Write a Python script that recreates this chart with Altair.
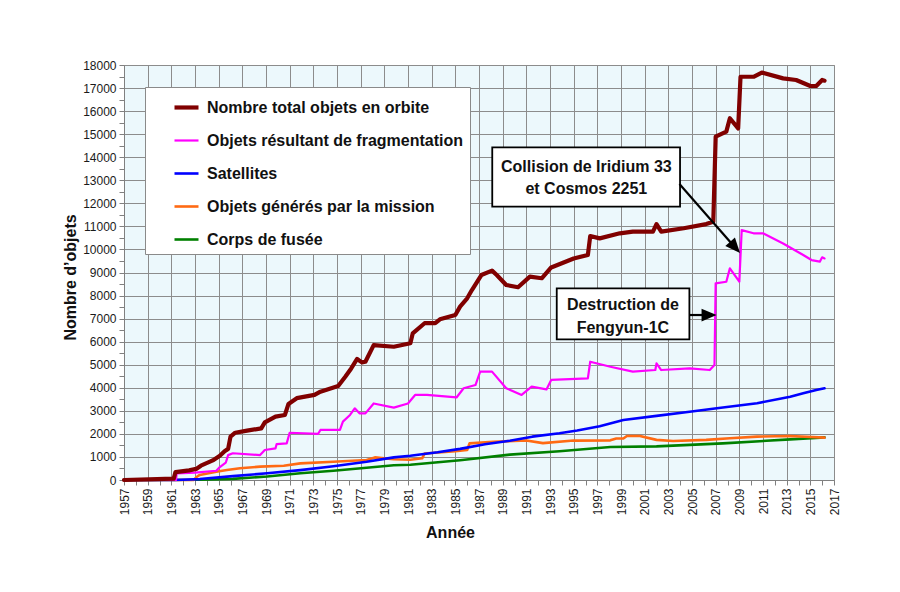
import altair as alt
import pandas as pd

# ---------------- data ----------------
SERIES = [
    "Nombre total objets en orbite",
    "Objets résultant de fragmentation",
    "Satellites",
    "Objets générés par la mission",
    "Corps de fusée",
]
COLORS = ["#800000", "#ff00ff", "#0000ff", "#ff6a13", "#008000"]
WIDTHS = [4.2, 2.2, 2.6, 2.6, 2.6]

total_years = [1957, 1961.2, 1961.35, 1962.5, 1963.1, 1963.5, 1964.5, 1965.1, 1965.5, 1965.8,
               1966.0, 1966.4, 1967.4, 1968.6, 1968.9, 1969.8, 1970.6, 1970.9, 1971.6, 1973.1,
               1973.6, 1975.1, 1975.7, 1976.2, 1976.7, 1977.1, 1977.4, 1978.1, 1979.8, 1981.2,
               1981.4, 1982.4, 1983.3, 1983.7, 1985.0, 1985.4, 1986.0, 1986.4, 1987.2, 1988.1,
               1988.5, 1989.3, 1990.3, 1991.3, 1992.3, 1993.1, 1995.0, 1996.2, 1996.4, 1997.2,
               1998.9, 2000.0, 2001.7, 2002.0, 2002.4, 2004.3, 2006.2, 2006.8, 2007.0, 2007.9,
               2008.2, 2008.9, 2009.1, 2010.2, 2010.9, 2012.7, 2013.8, 2015.0, 2015.5, 2016.0,
               2016.2]
total_values = [0, 60, 340, 420, 480, 620, 850, 1050, 1250, 1350,
                1880, 2050, 2140, 2240, 2500, 2750, 2820, 3300, 3550, 3690,
                3830, 4080, 4480, 4840, 5250, 5100, 5130, 5850, 5780, 5930,
                6360, 6800, 6800, 6970, 7160, 7520, 7880, 8240, 8890, 9080,
                8890, 8460, 8360, 8820, 8750, 9220, 9610, 9760, 10580, 10480,
                10700, 10770, 10770, 11100, 10770, 10920, 11100, 11200, 14890, 15110,
                15690, 15250, 17490, 17490, 17670, 17420, 17350, 17090, 17090, 17350,
                17320]

frag_years = [1957, 1961.4, 1961.45, 1963.0, 1964.8, 1965.1, 1965.6, 1965.8, 1966.2, 1968.5,
              1968.9, 1969.8, 1969.9, 1970.75, 1971.0, 1973.4, 1973.6, 1975.25, 1975.5, 1976.1,
              1976.5, 1976.9, 1977.4, 1978.1, 1979.8, 1981.0, 1981.6, 1982.6, 1985.1, 1985.7,
              1986.7, 1987.1, 1988.1, 1989.3, 1990.6, 1991.45, 1992.7, 1993.1, 1996.2, 1996.4,
              1998.1, 2000.0, 2001.9, 2002.0, 2002.4, 2004.8, 2006.5, 2006.9, 2007.0, 2007.9,
              2008.2, 2009.0, 2009.2, 2010.2, 2011.0, 2012.7, 2014.4, 2015.1, 2015.8, 2016.0,
              2016.2]
frag_values = [0, 0, 290, 320, 400, 560, 750, 1080, 1160, 1080,
               1300, 1370, 1560, 1590, 2050, 2000, 2170, 2170, 2530, 2820,
               3110, 2890, 2890, 3320, 3140, 3320, 3690, 3690, 3580, 3980,
               4120, 4700, 4700, 3980, 3690, 4050, 3930, 4340, 4410, 5130,
               4910, 4700, 4770, 5060, 4770, 4840, 4770, 4990, 8530, 8600,
               9180, 8600, 10840, 10700, 10700, 10260, 9760, 9540, 9470, 9660,
               9610]

sat_years = [1957, 1961.3, 1963.4, 1966.2, 1969.1, 1971.9, 1974.7, 1977.5, 1979.8, 1981.2,
             1983.5, 1985.4, 1987.5, 1989.6, 1991.5, 1993.8, 1995.3, 1997.2, 1999.2, 2002.0,
             2004.8, 2007.1, 2010.5, 2013.3, 2014.4, 2015.5, 2016.2]
sat_values = [0, 0, 40, 170, 290, 430, 600, 790, 980, 1050,
              1200, 1350, 1550, 1700, 1880, 2030, 2150, 2330, 2600, 2780,
              2960, 3110, 3330, 3610, 3760, 3900, 3980]

mission_years = [1957, 1962.9, 1963.1, 1963.4, 1964.8, 1965.7, 1966.8, 1968.5, 1970.5, 1971.9,
                 1974.7, 1977.5, 1978.2, 1979.8, 1981.2, 1982.2, 1982.4, 1985.0, 1986.0, 1986.2,
                 1988.2, 1991.0, 1992.4, 1995.0, 1998.1, 1998.6, 1999.2, 1999.5, 2000.6, 2002.0,
                 2003.4, 2006.2, 2008.2, 2010.5, 2013.3, 2016.2]
mission_values = [0, 0, 120, 220, 360, 430, 510, 580, 620, 720,
                  790, 870, 980, 900, 880, 940, 1150, 1250, 1300, 1590,
                  1660, 1710, 1600, 1710, 1720, 1800, 1800, 1910, 1910, 1740,
                  1690, 1740, 1810, 1880, 1910, 1840]

rocket_years = [1957, 1963.4, 1966.2, 1969.1, 1971.9, 1974.7, 1977.5, 1979.8, 1981.2, 1985.4,
                1989.6, 1993.8, 1998.1, 2002.0, 2007.6, 2013.3, 2016.2]
rocket_values = [0, 10, 50, 150, 290, 400, 530, 640, 660, 860,
                 1100, 1250, 1430, 1460, 1590, 1760, 1850]

# annotation boxes (data coordinates)
box_x1 = [1988.12, 1993.57]
box_x2 = [2003.99, 2004.78]
box_y1 = [11853, 6102]
box_y2 = [14429, 8314]

note_lines = ["Collision de Iridium 33", "et Cosmos 2251", "Destruction de", "Fengyun-1C"]
note_x = [1996.07, 1996.07, 1999.16, 1999.16]
note_y = [13597, 12621, 7590, 6592]

arrow_x1 = [2003.94, 2004.78]
arrow_y1 = [12838, 7156]
arrow_x2 = [2008.64, 2006.44]
arrow_y2 = [10088, 7156]
arrow_angle = [138.8, 90]

# ---------------- tables ----------------
rows = []
for name, ys, vs in [
    (SERIES[4], rocket_years, rocket_values),
    (SERIES[3], mission_years, mission_values),
    (SERIES[2], sat_years, sat_values),
    (SERIES[1], frag_years, frag_values),
    (SERIES[0], total_years, total_values),
]:
    for yr, v in zip(ys, vs):
        rows.append({"series": name, "year": yr, "value": v})
df = pd.DataFrame(rows)

boxes = pd.DataFrame({"x1": box_x1, "x2": box_x2, "y1": box_y1, "y2": box_y2})
notes = pd.DataFrame({"text": note_lines, "x": note_x, "y": note_y})
arrows = pd.DataFrame({"x1": arrow_x1, "y1": arrow_y1, "x2": arrow_x2, "y2": arrow_y2,
                       "angle": arrow_angle})

FONT = "Liberation Sans"
GRID = "#8c8c8c"

xscale = alt.Scale(domain=[1957, 2017], nice=False, zero=False)
yscale = alt.Scale(domain=[0, 18000], nice=False)

x_axis = alt.Axis(
    values=list(range(1957, 2018)),
    format="d",
    labelExpr="datum.value % 2 == 1 ? datum.label : ''",
    labelOverlap=False,
    labelAngle=270,
    labelAlign="right",
    labelBaseline="middle",
    labelFontSize=12,
    labelColor="#1a1a1a",
    labelPadding=3,
    tickSize=5,
    tickColor="#808080",
    domainColor="#808080",
    grid=True,
    gridColor=GRID,
    gridOpacity={"condition": {"test": "datum.value % 2 == 1", "value": 1}, "value": 0},
    title="Année",
    titleFontSize=16,
    titleFontWeight="bold",
    titleColor="#111111",
    titleX=326,
    titleY=52,
    titleBaseline="middle",
    titleAlign="center",
)
y_axis = alt.Axis(
    values=list(range(0, 18001, 500)),
    format="d",
    labelExpr="datum.value % 1000 == 0 ? datum.label : ''",
    labelOverlap=False,
    labelFontSize=12,
    labelColor="#1a1a1a",
    labelPadding=3,
    tickSize=5,
    tickColor="#808080",
    domainColor="#808080",
    grid=True,
    gridColor=GRID,
    gridOpacity={"condition": {"test": "datum.value % 1000 == 0", "value": 1}, "value": 0},
    title="Nombre d’objets",
    titleFontSize=16,
    titleFontWeight="bold",
    titleColor="#111111",
    titleAngle=270,
    titleX=-54,
    titleY=212,
    titleBaseline="middle",
    titleAlign="center",
)


def X(field):
    return alt.X(field, scale=xscale, axis=x_axis)


def Y(field):
    return alt.Y(field, scale=yscale, axis=y_axis)


legend_def = dict(
    title=None,
    orient="none",
    legendX=21,
    legendY=22,
    fillColor="white",
    strokeColor="#8a8a8a",
    padding=6,
    symbolType="stroke",
    symbolSize=576,
    symbolOffset=21,
    labelOffset=6,
    labelFont=FONT,
    labelFontSize=16,
    labelFontWeight="bold",
    labelColor="#111111",
    labelLimit=400,
    rowPadding=11,
)

lines = alt.Chart(df).mark_line(strokeJoin="round", strokeCap="round").encode(
    x=X("year:Q"),
    y=Y("value:Q"),
    color=alt.Color("series:N", scale=alt.Scale(domain=SERIES, range=COLORS),
                    legend=alt.Legend(**legend_def)),
    strokeWidth=alt.StrokeWidth("series:N",
                                scale=alt.Scale(type="ordinal", domain=SERIES, range=WIDTHS),
                                legend=alt.Legend(**legend_def)),
    order=alt.Order("year:Q"),
)

box_layer = alt.Chart(boxes).mark_rect(fill="white", stroke="black", strokeWidth=1.8).encode(
    x=X("x1:Q"), x2="x2:Q", y=Y("y1:Q"), y2="y2:Q",
)

text_layer = alt.Chart(notes).mark_text(
    font=FONT, fontSize=16, fontWeight="bold", color="#111111", align="center", baseline="middle"
).encode(x=X("x:Q"), y=Y("y:Q"), text="text:N")

arrow_lines = alt.Chart(arrows).mark_rule(color="black", strokeWidth=2.2).encode(
    x=X("x1:Q"), y=Y("y1:Q"), x2="x2:Q", y2="y2:Q"
)
arrow_heads = alt.Chart(arrows).mark_point(
    shape="M0,-1L0.85,1L-0.85,1Z", filled=True, color="black", opacity=1, size=225
).encode(
    x=X("x2:Q"), y=Y("y2:Q"), angle=alt.Angle("angle:Q", scale=None)
)

chart = alt.layer(lines, box_layer, text_layer, arrow_lines, arrow_heads).properties(
    width=710,
    height=415,
    padding={"left": 124, "top": 65, "right": 66, "bottom": 112},
    autosize=alt.AutoSizeParams(type="none"),
    background="white",
).configure(font=FONT).configure_view(fill="#ecf8fc", stroke="#999999", strokeWidth=1)

chart.save("out.html", embed_options={"renderer": "svg", "actions": False})
